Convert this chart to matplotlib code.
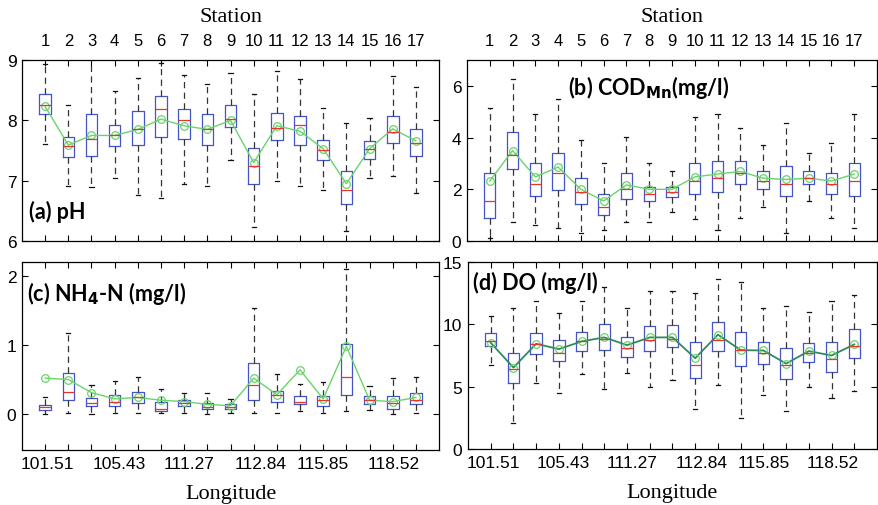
import numpy as np
import matplotlib
matplotlib.use("Agg")
import matplotlib.pyplot as plt
import matplotlib.transforms as mtrans

plt.rcParams["font.family"] = ["Liberation Sans", "DejaVu Sans"]

# ── data ───────────────────────────────────────────────
stations = list(range(1, 18))
lon_labels = ["101.51", "105.43", "111.27", "112.84", "115.85", "118.52"]

# (a) pH
ph_lo   = [7.60, 6.91, 6.89, 7.05, 6.76, 6.72, 6.95, 6.92, 7.35, 6.23, 7.00, 6.92, 6.84, 6.16, 7.05, 7.07, 6.79]
ph_q1   = [8.10, 7.39, 7.41, 7.57, 7.59, 7.73, 7.69, 7.59, 7.89, 6.95, 7.68, 7.59, 7.34, 6.61, 7.36, 7.63, 7.41]
ph_med  = [8.25, 7.57, 7.69, 7.75, 7.85, 8.18, 8.00, 7.86, 8.03, 7.25, 7.87, 7.92, 7.51, 6.84, 7.52, 7.80, 7.62]
ph_q3   = [8.44, 7.73, 8.11, 7.93, 8.16, 8.41, 8.18, 8.10, 8.25, 7.55, 8.13, 8.07, 7.68, 7.16, 7.66, 8.07, 7.86]
ph_hi   = [8.93, 8.25, 9.10, 8.48, 8.71, 8.95, 8.75, 8.60, 8.78, 8.43, 8.82, 8.69, 8.21, 7.95, 8.04, 8.73, 8.56]
ph_mean = [8.23, 7.59, 7.75, 7.75, 7.85, 8.02, 7.91, 7.85, 8.00, 7.30, 7.91, 7.82, 7.53, 6.95, 7.53, 7.86, 7.66]

# (b) COD_Mn
cod_lo   = [0.11, 0.73, 0.63, 0.52, 0.31, 0.42, 0.73, 0.73, 1.11, 0.84, 0.42, 0.89, 1.32, 0.32, 1.55, 0.89, 0.52]
cod_q1   = [0.88, 2.80, 1.75, 1.99, 1.42, 1.00, 1.62, 1.53, 1.72, 1.80, 1.90, 2.20, 2.00, 1.74, 2.22, 1.80, 1.75]
cod_med  = [1.53, 3.32, 2.22, 2.64, 1.90, 1.32, 2.00, 1.81, 1.90, 2.34, 2.43, 2.64, 2.32, 2.22, 2.43, 2.22, 2.32]
cod_q3   = [2.62, 4.21, 3.00, 3.42, 2.43, 1.80, 2.63, 2.09, 2.09, 3.00, 3.10, 3.10, 2.69, 2.92, 2.69, 2.63, 3.00]
cod_hi   = [5.13, 6.27, 4.90, 5.48, 3.90, 3.00, 4.02, 3.00, 2.69, 4.81, 4.90, 4.38, 3.70, 4.58, 3.42, 3.80, 4.90]
cod_mean = [2.32, 3.50, 2.48, 2.86, 2.00, 1.55, 2.17, 2.00, 2.00, 2.48, 2.59, 2.69, 2.43, 2.38, 2.43, 2.32, 2.59]

# (c) NH4-N
nh_lo   = [0.00, 0.02, 0.00, 0.02, 0.02, 0.02, 0.02, 0.00, 0.02, 0.02, 0.02, 0.04, 0.02, 0.04, 0.06, 0.00, 0.02]
nh_q1   = [0.06, 0.20, 0.12, 0.12, 0.16, 0.04, 0.12, 0.08, 0.08, 0.20, 0.18, 0.14, 0.12, 0.28, 0.14, 0.08, 0.14]
nh_med  = [0.10, 0.32, 0.16, 0.18, 0.24, 0.08, 0.16, 0.10, 0.10, 0.42, 0.28, 0.18, 0.20, 0.54, 0.20, 0.16, 0.20]
nh_q3   = [0.13, 0.60, 0.23, 0.28, 0.32, 0.18, 0.20, 0.16, 0.14, 0.74, 0.34, 0.26, 0.26, 1.02, 0.26, 0.26, 0.30]
nh_hi   = [0.24, 1.17, 0.42, 0.48, 0.54, 0.36, 0.30, 0.30, 0.22, 1.54, 0.58, 0.44, 0.46, 2.10, 0.40, 0.52, 0.54]
nh_mean = [0.52, 0.50, 0.31, 0.22, 0.24, 0.20, 0.18, 0.14, 0.12, 0.52, 0.28, 0.64, 0.22, 0.98, 0.20, 0.18, 0.24]

# (d) DO
do_lo   = [6.77, 2.10, 5.32, 4.52, 6.00, 4.84, 6.08, 4.95, 5.51, 3.17, 5.11, 2.50, 4.30, 3.06, 4.95, 4.06, 4.62]
do_q1   = [8.28, 5.27, 7.63, 7.04, 7.85, 7.96, 7.39, 7.85, 8.17, 5.70, 7.85, 6.64, 6.83, 5.65, 6.94, 6.18, 7.31]
do_med  = [8.63, 6.40, 8.39, 7.72, 8.63, 8.79, 8.06, 8.74, 8.84, 6.75, 8.74, 7.90, 7.72, 6.75, 7.72, 7.18, 8.28]
do_q3   = [9.30, 7.72, 9.30, 8.76, 9.38, 10.05, 8.95, 9.84, 9.95, 8.60, 10.19, 9.38, 8.60, 8.06, 8.49, 8.60, 9.62]
do_hi   = [10.70, 11.30, 11.90, 10.90, 11.90, 12.96, 11.30, 12.70, 12.70, 12.50, 13.60, 13.40, 11.30, 11.50, 10.97, 11.90, 12.37]
do_mean = [8.52, 6.53, 8.44, 8.01, 8.63, 8.95, 8.33, 8.95, 8.95, 7.28, 9.17, 7.93, 7.90, 6.85, 7.85, 7.50, 8.39]


def make_stats(lo, q1, med, q3, hi):
    return [dict(whislo=a, q1=b, med=c, q3=d, whishi=e, fliers=[])
            for a, b, c, d, e in zip(lo, q1, med, q3, hi)]


def draw_panel(ax, stats, mean, line_color, ylim, yticks):
    ax.bxp(stats, positions=stations, widths=0.5, capwidths=0.18,
           manage_ticks=False, showfliers=False,
           boxprops=dict(color="#4455c8", linewidth=0.9),
           medianprops=dict(color="#e8352b", linewidth=0.9),
           whiskerprops=dict(color="#333333", linewidth=0.9, linestyle=(0, (5, 3.5))),
           capprops=dict(color="#111111", linewidth=0.9))
    ax.plot(stations, mean, "-", color=line_color, lw=1.0 if line_color == "#6ad46a" else 1.3)
    ax.plot(stations, mean, "o", mfc="none", mec="#6ad46a", ms=5.5, mew=0.9)
    ax.set_xlim(0, 18)
    ax.set_ylim(*ylim)
    ax.set_yticks(yticks)
    ax.set_xticks(stations)
    ax.tick_params(direction="in", top=True, right=True, labelsize=12.5,
                   length=4, width=0.8)
    ax.tick_params(axis="y", pad=4)
    for s in ax.spines.values():
        s.set_linewidth(0.9)


fig = plt.figure(figsize=(8.79, 5.06), dpi=100)
ax_a = fig.add_axes([0.025, 0.5217, 0.4745, 0.3577])
ax_b = fig.add_axes([0.5313, 0.5217, 0.4664, 0.3577])
ax_c = fig.add_axes([0.025, 0.1087, 0.4745, 0.3715])
ax_d = fig.add_axes([0.5324, 0.1107, 0.4653, 0.3696])

draw_panel(ax_a, make_stats(ph_lo, ph_q1, ph_med, ph_q3, ph_hi), ph_mean,
           "#6ad46a", (6, 9), [6, 7, 8, 9])
draw_panel(ax_b, make_stats(cod_lo, cod_q1, cod_med, cod_q3, cod_hi), cod_mean,
           "#6ad46a", (0, 7), [0, 2, 4, 6])
draw_panel(ax_c, make_stats(nh_lo, nh_q1, nh_med, nh_q3, nh_hi), nh_mean,
           "#6ad46a", (-0.52, 2.2), [0, 1, 2])
draw_panel(ax_d, make_stats(do_lo, do_q1, do_med, do_q3, do_hi), do_mean,
           "#2f8a5c", (0, 15), [0, 5, 10, 15])

# top panels: station numbers on top
for ax in (ax_a, ax_b):
    ax.tick_params(axis="x", labelbottom=False, labeltop=True, pad=9,
                   labelsize=12)
    ax.set_xticklabels([str(s) for s in stations])
    ax.xaxis.set_label_position("top")
    ax.set_xlabel("Station", family="Liberation Serif", fontsize=16, labelpad=8)

# bottom panels: longitude labels (placed between station ticks)
lon_pos = [1.1, 4.2, 7.2, 10.3, 13.0, 16.05]
for ax in (ax_c, ax_d):
    ax.set_xticklabels([])
    trans = mtrans.blended_transform_factory(ax.transData, ax.transAxes)
    for p, lab in zip(lon_pos, lon_labels):
        ax.text(p, -0.03, lab, transform=trans, ha="center", va="top",
                fontsize=12.5)
    ax.set_xlabel("Longitude", family="Liberation Serif", fontsize=16, labelpad=21)

title_kw = dict(fontsize=15.5, fontweight="bold", family="Lato", va="center", ha="left")
ax_a.text(0.017, 0.166, "(a) pH", transform=ax_a.transAxes, **title_kw)
ax_b.text(0.246, 0.856, r"(b) COD$_{\mathbf{Mn}}$(mg/l)", transform=ax_b.transAxes, **title_kw)
ax_c.text(0.013, 0.84, r"(c) NH$_{\mathbf{4}}$-N (mg/l)", transform=ax_c.transAxes, **title_kw)
ax_d.text(0.012, 0.893, "(d) DO (mg/l)", transform=ax_d.transAxes, **title_kw)

plt.savefig("out.png", dpi=100)
plt.close()
